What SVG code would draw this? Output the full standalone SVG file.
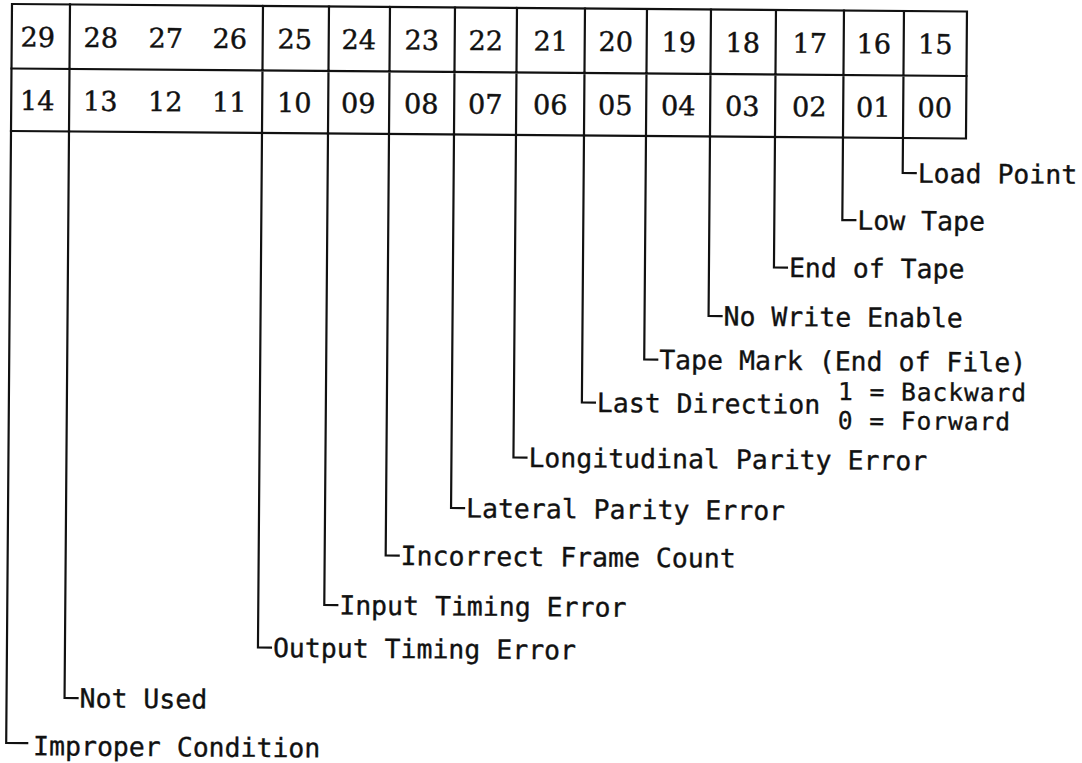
<svg xmlns="http://www.w3.org/2000/svg" width="1082" height="763" viewBox="0 0 1082 763">
  <style>
    .ln{fill:none;stroke:#111;stroke-width:2.2;stroke-linecap:square;stroke-linejoin:miter}
    .num{font-family:"DejaVu Serif","Liberation Serif",serif;font-size:27px;fill:#111;stroke:#111;stroke-width:0.45;text-anchor:middle}
    .lbl{font-family:"DejaVu Sans Mono","Liberation Mono",monospace;font-size:26.5px;fill:#111;stroke:#111;stroke-width:0.35}
    .opt{font-size:24.5px;letter-spacing:1px}
  </style>
  <rect width="1082" height="763" fill="#fff"/>
  <!-- whole sheet sits at a slight tilt -->
  <g transform="rotate(0.45 11 4)">
    <!-- status word bit layout: upper row bits 29-15, lower row bits 14-00 -->
    <g id="register">
      <rect class="ln" x="12" y="4" width="955" height="127"/>
      <path class="ln" d="M12 68.5H967M70 4V131M263 4V131M329 4V131M390 4V131M455 4V131M517 4V131M585 4V131M647 4V131M711 4V131M776 4V131M844 4V131M904 4V131"/>
      <g id="row-high">
        <text class="num" x="38" y="46.5">29</text>
        <text class="num" x="101" y="46.5">28</text>
        <text class="num" x="166" y="46.5">27</text>
        <text class="num" x="230" y="46.5">26</text>
        <text class="num" x="295" y="46.5">25</text>
        <text class="num" x="359" y="46.5">24</text>
        <text class="num" x="422" y="46.5">23</text>
        <text class="num" x="486" y="46.5">22</text>
        <text class="num" x="551" y="46.5">21</text>
        <text class="num" x="616" y="46.5">20</text>
        <text class="num" x="679" y="46.5">19</text>
        <text class="num" x="743" y="46.5">18</text>
        <text class="num" x="810" y="46.5">17</text>
        <text class="num" x="874" y="46.5">16</text>
        <text class="num" x="935.5" y="46.5">15</text>
      </g>
      <g id="row-low">
        <text class="num" x="38" y="110">14</text>
        <text class="num" x="101" y="110">13</text>
        <text class="num" x="166" y="110">12</text>
        <text class="num" x="230" y="110">11</text>
        <text class="num" x="295" y="110">10</text>
        <text class="num" x="359" y="110">09</text>
        <text class="num" x="422" y="110">08</text>
        <text class="num" x="486" y="110">07</text>
        <text class="num" x="551" y="110">06</text>
        <text class="num" x="616" y="110">05</text>
        <text class="num" x="679" y="110">04</text>
        <text class="num" x="743" y="110">03</text>
        <text class="num" x="810" y="110">02</text>
        <text class="num" x="874" y="110">01</text>
        <text class="num" x="935.5" y="110">00</text>
      </g>
    </g>

    <!-- leader lines from each field down to its description -->
    <g id="leaders" class="ln">
      <path d="M904 131V166H917"/>
      <path d="M844 131V213.5H857"/>
      <path d="M776 131V261.5H789"/>
      <path d="M711 131V310.5H724"/>
      <path d="M647 131V354.5H660"/>
      <path d="M585 131V398H598"/>
      <path d="M517 131V453.5H530"/>
      <path d="M455 131V504.5H468"/>
      <path d="M390 131V552.5H403"/>
      <path d="M329 131V602.5H342"/>
      <path d="M263 131V645.5H276"/>
      <path d="M70 131V697.5H83"/>
      <path d="M12 131V743H33"/>
    </g>

    <g id="load-point"><text class="lbl" x="919" y="175.5">Load Point</text></g>
    <g id="low-tape"><text class="lbl" x="859" y="223">Low Tape</text></g>
    <g id="end-of-tape"><text class="lbl" x="791" y="271">End of Tape</text></g>
    <g id="no-write-enable"><text class="lbl" x="726" y="320">No Write Enable</text></g>
    <g id="tape-mark"><text class="lbl" x="662" y="364">Tape Mark (End of File)</text></g>
    <g id="last-direction">
      <text class="lbl" x="600" y="407.5">Last Direction</text>
      <text class="lbl opt" x="841" y="393.5">1 = Backward</text>
      <text class="lbl opt" x="841" y="422.5">0 = Forward</text>
    </g>
    <g id="longitudinal-parity"><text class="lbl" x="532" y="463">Longitudinal Parity Error</text></g>
    <g id="lateral-parity"><text class="lbl" x="470" y="514">Lateral Parity Error</text></g>
    <g id="incorrect-frame-count"><text class="lbl" x="405" y="562">Incorrect Frame Count</text></g>
    <g id="input-timing"><text class="lbl" x="344" y="612">Input Timing Error</text></g>
    <g id="output-timing"><text class="lbl" x="278" y="655">Output Timing Error</text></g>
    <g id="not-used"><text class="lbl" x="85" y="707">Not Used</text></g>
    <g id="improper-condition"><text class="lbl" x="39" y="755">Improper Condition</text></g>
  </g>
</svg>
